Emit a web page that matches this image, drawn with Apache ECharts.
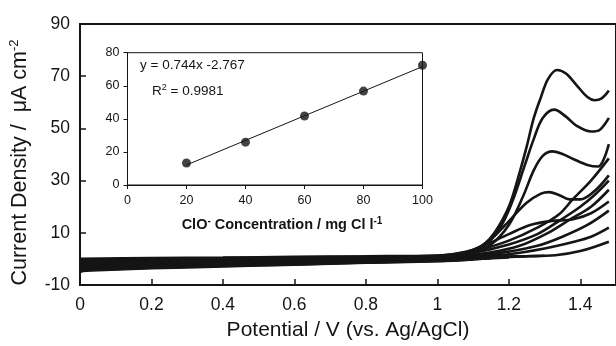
<!DOCTYPE html>
<html lang="en">
<head>
    <meta charset="UTF-8">
    <title>Cyclic voltammograms - ClO- calibration</title>
    <script src="https://cdn.jsdelivr.net/npm/echarts@6/dist/echarts.min.js"></script>
    <style>
        body { margin: 0; background: #fff; }
        #chart { width: 616px; height: 346px; }
    </style>
</head>
<body>
    <div id="chart"></div>
    <script>
    // main plot: forward scans [potential V, current uA cm-2]
    var scan1 = [[0,0.0],[0.2,0.3],[0.4,0.5],[0.6,0.8],[0.8,1.0],[1.0,1.3],[1.05,2.0],[1.1,3.4],[1.13,5.5],[1.16,10],[1.2,20],[1.23,33],[1.25,43],[1.27,54],[1.29,62],[1.31,69],[1.335,72.4],[1.36,71],[1.39,66.5],[1.42,62],[1.44,60.8],[1.46,61.5],[1.48,64.5]];
    var scan2 = [[0,-0.3],[0.2,0.1],[0.4,0.3],[0.6,0.6],[0.8,0.9],[1.0,1.2],[1.05,1.9],[1.1,3.0],[1.14,6],[1.18,13],[1.21,22],[1.245,36],[1.27,46],[1.295,54],[1.327,57.2],[1.36,54.5],[1.39,51],[1.43,48.8],[1.455,49.5],[1.48,54]];
    var scan3 = [[0,-0.6],[0.2,-0.2],[0.4,0.1],[0.6,0.4],[0.8,0.7],[1.0,1.0],[1.05,1.7],[1.1,2.6],[1.15,5.5],[1.2,13],[1.24,24],[1.27,34],[1.295,39.5],[1.322,41.2],[1.35,40.2],[1.38,38.3],[1.42,36],[1.45,35.4],[1.465,38],[1.48,44]];
    var scan4 = [[0,-0.9],[0.2,-0.5],[0.4,-0.1],[0.6,0.2],[0.8,0.5],[1.0,0.9],[1.05,1.6],[1.1,3.3],[1.15,7.5],[1.19,13],[1.25,21.5],[1.29,25],[1.313,25.6],[1.34,24.5],[1.37,22.8],[1.4,22.8],[1.44,26],[1.48,32]];
    var scan5 = [[0,-1.2],[0.2,-0.7],[0.4,-0.3],[0.6,0.1],[0.8,0.4],[1.0,0.8],[1.05,1.5],[1.12,4.5],[1.2,9.5],[1.26,13],[1.32,14.5],[1.38,15.2],[1.43,17.5],[1.48,22]];
    var scan6 = [[0,-1.5],[0.2,-1.0],[0.4,-0.5],[0.6,-0.1],[0.8,0.3],[1.0,0.7],[1.05,1.3],[1.12,3.5],[1.2,7],[1.28,12],[1.34,17],[1.38,23],[1.43,30],[1.48,38.5]];
    var scan7 = [[0,-1.8],[0.2,-1.2],[0.4,-0.7],[0.6,-0.3],[0.8,0.2],[1.0,0.6],[1.05,1.1],[1.12,2.8],[1.2,5.5],[1.28,9.5],[1.34,14.5],[1.4,20],[1.44,24.5],[1.48,30]];
    var scan8 = [[0,-2.1],[0.2,-1.4],[0.4,-0.9],[0.6,-0.4],[0.8,0.1],[1.0,0.5],[1.05,0.9],[1.15,2.5],[1.23,5],[1.31,10],[1.37,15],[1.43,20],[1.48,26.5]];
    var scan9 = [[0,-2.4],[0.2,-1.7],[0.4,-1.1],[0.6,-0.6],[0.8,-0.1],[1.0,0.4],[1.1,1.0],[1.2,2.8],[1.28,5],[1.35,8.5],[1.42,13],[1.48,18.5]];
    var scan10 = [[0,-2.7],[0.2,-2.0],[0.4,-1.3],[0.6,-0.8],[0.8,-0.3],[1.0,0.3],[1.1,0.8],[1.2,1.8],[1.3,4],[1.38,6.5],[1.43,8.5],[1.48,12]];
    var scan11 = [[0,-3.0],[0.2,-2.2],[0.4,-1.5],[0.6,-1.0],[0.8,-0.4],[1.0,0.2],[1.1,0.6],[1.25,1.0],[1.33,1.4],[1.4,3],[1.48,6.6]];
    // return scans (lower edge of the baseline band)
    var back1 = [[1.3,1.2],[1.2,0.9],[1.1,0.3],[1.0,-0.2],[0.8,-0.8],[0.6,-1.3],[0.4,-1.9],[0.2,-2.5],[0.05,-3.0],[0,-3.2]];
    var back2 = [[1.25,1.0],[1.1,0.1],[1.0,-0.4],[0.8,-1.0],[0.6,-1.6],[0.4,-2.2],[0.2,-2.9],[0.05,-3.4],[0,-3.7]];
    var back3 = [[1.2,0.6],[1.1,-0.1],[1.0,-0.6],[0.8,-1.2],[0.6,-1.9],[0.4,-2.5],[0.2,-3.2],[0.05,-3.8],[0,-4.1]];
    var back4 = [[1.15,0.3],[1.0,-0.8],[0.8,-1.4],[0.6,-2.1],[0.4,-2.7],[0.2,-3.4],[0.05,-4.1],[0,-4.5]];
    var back5 = [[1.1,-0.2],[1.0,-0.9],[0.8,-1.5],[0.6,-2.2],[0.4,-2.9],[0.2,-3.6],[0.05,-4.3],[0.01,-4.6],[0,-5.0]];

    var xTicksMain = [0, 1.5, 0.2];   // min, max, step
    var yTicksMain = [-10, 90, 20];

    // inset: calibration
    var insetConc = [20, 40, 60, 80, 100];
    var insetSignal = [13.3, 25.9, 41.7, 56.8, 72.4];
    var fitConc = [20, 100];
    var fitSignal = [12.1, 71.6];
    var fitEquation = 'y = 0.744x -2.767';
    var fitR2 = '0.9981';

    var scans = [scan1, scan2, scan3, scan4, scan5, scan6, scan7, scan8, scan9, scan10, scan11,
                 back1, back2, back3, back4, back5];

    var font = 'Liberation Sans, Arial, sans-serif';
    var ink = '#151515';

    var chart = echarts.init(document.getElementById('chart'));

    var series = scans.map(function (d) {
        return {
            type: 'line',
            xAxisIndex: 0,
            yAxisIndex: 0,
            data: d,
            showSymbol: false,
            smooth: 0.35,
            clip: true,
            lineStyle: { color: ink, width: 2.6 },
            silent: true
        };
    });

    series.push({
        type: 'line',
        xAxisIndex: 1,
        yAxisIndex: 1,
        data: fitConc.map(function (c, i) { return [c, fitSignal[i]]; }),
        showSymbol: false,
        lineStyle: { color: ink, width: 1 }
    });
    series.push({
        type: 'scatter',
        xAxisIndex: 1,
        yAxisIndex: 1,
        data: insetConc.map(function (c, i) { return [c, insetSignal[i]]; }),
        symbolSize: 9,
        itemStyle: { color: ink }
    });

    var option = {
        animation: false,
        textStyle: { fontFamily: font },
        grid: [
            { left: 80, top: 24, width: 544.5, height: 261.3, show: true, borderColor: ink, borderWidth: 2, backgroundColor: 'transparent' },
            { left: 127.5, top: 52.7, width: 295, height: 132.3, show: true, borderColor: ink, borderWidth: 1, backgroundColor: '#fff' }
        ],
        xAxis: [
            {
                type: 'value', gridIndex: 0,
                min: xTicksMain[0], max: xTicksMain[1], interval: xTicksMain[2],
                name: 'Potential / V (vs. Ag/AgCl)',
                nameLocation: 'middle', nameGap: 35,
                nameTextStyle: { fontSize: 21, color: ink, fontFamily: font },
                axisLine: { onZero: false, lineStyle: { color: ink, width: 2 } },
                axisTick: { inside: true, length: 6, lineStyle: { color: ink, width: 1.5 } },
                axisLabel: { fontSize: 17.5, color: ink, margin: 11, showMaxLabel: false, fontFamily: font },
                splitLine: { show: false }
            },
            {
                type: 'value', gridIndex: 1,
                min: 0, max: 100, interval: 20,
                name: '{t|ClO}{s|-}{t| Concentration / mg Cl l}{s|-1}',
                nameLocation: 'middle', nameGap: 31,
                nameTextStyle: {
                    color: ink,
                    padding: [0, 0, 0, 14],
                    rich: {
                        t: { fontSize: 14.5, fontWeight: 'bold', color: ink, fontFamily: font, lineHeight: 17 },
                        s: { fontSize: 10, fontWeight: 'bold', color: ink, fontFamily: font, verticalAlign: 'top', lineHeight: 17, padding: [0, 0, 6, 0] }
                    }
                },
                axisLine: { onZero: false, lineStyle: { color: ink, width: 1 } },
                axisTick: { length: 4, lineStyle: { color: ink } },
                axisLabel: { fontSize: 12.5, color: ink, margin: 9, fontFamily: font },
                splitLine: { show: false }
            }
        ],
        yAxis: [
            {
                type: 'value', gridIndex: 0,
                min: yTicksMain[0], max: yTicksMain[1], interval: yTicksMain[2],
                name: '{t|Current Density /  μA cm}{s|-2}',
                nameLocation: 'middle', nameGap: 48,
                nameTextStyle: {
                    color: ink,
                    padding: [0, 16, 0, 0],
                    rich: {
                        t: { fontSize: 21.5, color: ink, fontFamily: font, lineHeight: 24 },
                        s: { fontSize: 13, color: ink, fontFamily: font, verticalAlign: 'top', lineHeight: 24, padding: [0, 0, 10, 0] }
                    }
                },
                axisLine: { onZero: false, lineStyle: { color: ink, width: 2 } },
                axisTick: { inside: true, length: 6, lineStyle: { color: ink, width: 1.5 } },
                axisLabel: { fontSize: 17.5, color: ink, margin: 10, fontFamily: font },
                splitLine: { show: false }
            },
            {
                type: 'value', gridIndex: 1,
                min: 0, max: 80, interval: 20,
                axisLine: { onZero: false, lineStyle: { color: ink, width: 1 } },
                axisTick: { length: 4, lineStyle: { color: ink } },
                axisLabel: { fontSize: 12.5, color: ink, margin: 8, fontFamily: font },
                splitLine: { show: false }
            }
        ],
        graphic: [
            {
                type: 'text', left: 140, top: 58,
                style: { text: fitEquation, fontSize: 13.5, fill: ink, fontFamily: font }
            },
            {
                type: 'text', left: 152, top: 83,
                style: {
                    text: '{t|R}{s|2}{t| = ' + fitR2 + '}',
                    fill: ink,
                    rich: {
                        t: { fontSize: 13.5, fill: ink, fontFamily: font, lineHeight: 16 },
                        s: { fontSize: 9, fill: ink, fontFamily: font, verticalAlign: 'top', lineHeight: 16, padding: [0, 0, 6, 0] }
                    }
                }
            }
        ],
        series: series
    };

    chart.setOption(option);
    </script>
</body>
</html>
